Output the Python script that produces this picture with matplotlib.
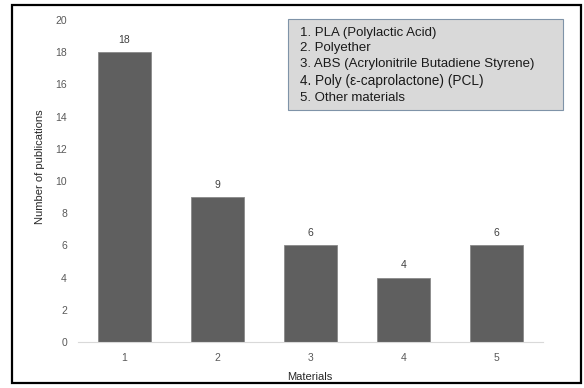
import matplotlib.pyplot as plt
from matplotlib.patches import Rectangle

# data
materials = ["1", "2", "3", "4", "5"]
publications = [18, 9, 6, 4, 6]
legend_lines = [
    "1. PLA (Polylactic Acid)",
    "2. Polyether",
    "3. ABS (Acrylonitrile Butadiene Styrene)",
    "4. Poly (\u03b5-caprolactone) (PCL)",
    "5. Other materials",
]

plt.rcParams['font.family'] = ['Liberation Sans', 'DejaVu Sans']

W, H = 584, 388
fig = plt.figure(figsize=(W / 100, H / 100), dpi=100)

def fx(px):
    return px / W

def fy(py):
    return 1 - py / H

ax = fig.add_axes([fx(78), fy(342), fx(543) - fx(78), fy(20) - fy(342)])
pos = list(range(1, len(materials) + 1))
bars = ax.bar(pos, publications, width=0.57, color='#5f5f5f', edgecolor='#8a8a8a', linewidth=0.6)
for b, v in zip(bars, publications):
    ax.text(b.get_x() + b.get_width() / 2, v + 0.45, str(v), ha='center', va='bottom',
            fontsize=7.5, color='#404040')

ax.set_xlim(0.5, 5.5)
ax.set_ylim(0, 20)
ax.set_yticks(range(0, 21, 2))
ax.set_xticks(pos)
ax.set_xticklabels(materials)
for s in ['top', 'right', 'left']:
    ax.spines[s].set_visible(False)
ax.spines['bottom'].set_color('#d9d9d9')
ax.spines['bottom'].set_linewidth(0.8)
ax.tick_params(length=0, labelsize=7.5, labelcolor='#595959')
ax.tick_params(axis='y', pad=8)
ax.tick_params(axis='x', pad=8)

fig.text(fx(310), fy(377), "Materials", ha='center', va='center', fontsize=8, color='#262626')
fig.text(fx(40), fy(167), "Number of publications", ha='center', va='center', rotation=90,
         fontsize=8, color='#262626')

# legend-like box
fig.patches.append(Rectangle((fx(288), fy(110)), fx(563) - fx(288), fy(19) - fy(110),
                             transform=fig.transFigure, facecolor='#d9d9d9',
                             edgecolor='#7f93a8', linewidth=0.8))
ys = [33, 48, 64, 81, 98]
for i, (line, y) in enumerate(zip(legend_lines, ys)):
    fig.text(fx(300), fy(y), line, ha='left', va='center',
             fontsize=9.8 if i == 3 else 9.5, color='#1a1a1a')

# outer border
fig.patches.append(Rectangle((fx(12), fy(383)), fx(581) - fx(12), fy(5) - fy(383),
                             transform=fig.transFigure, facecolor='none',
                             edgecolor='black', linewidth=1.6))

fig.savefig('out.png', dpi=100)
